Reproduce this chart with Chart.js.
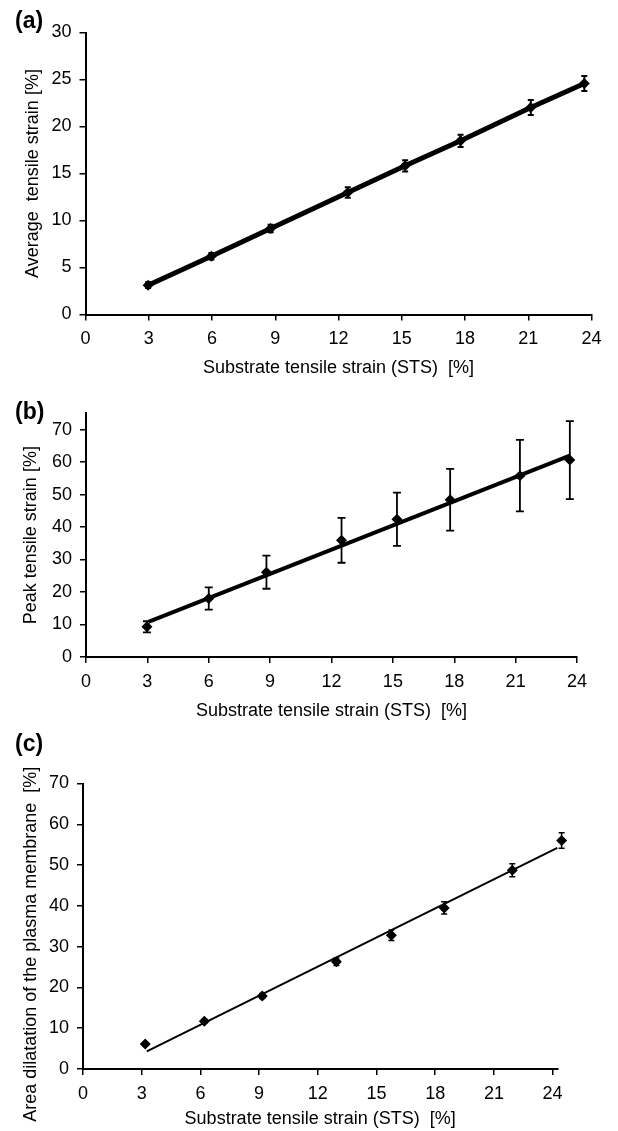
<!DOCTYPE html>
<html>
<head>
<meta charset="utf-8">
<script src="https://cdn.jsdelivr.net/npm/chart.js@4.4.1/dist/chart.umd.min.js"></script>
<style>
  html, body { margin: 0; padding: 0; background: #fff; }
  body { width: 618px; height: 1131px; position: relative; overflow: hidden; font-family: 'Liberation Sans', Arial, sans-serif; }
  canvas { position: absolute; left: 0; }
  .tag { position: absolute; left: 15px; font-weight: bold; font-size: 23px; line-height: 1; color: #000; }
</style>
</head>
<body>
<canvas id="chartA" width="618" height="385" style="top:0"></canvas>
<canvas id="chartB" width="618" height="345" style="top:385px"></canvas>
<canvas id="chartC" width="618" height="401" style="top:730px"></canvas>
<div class="tag" style="top:9px">(a)</div>
<div class="tag" style="top:400px">(b)</div>
<div class="tag" style="top:732px">(c)</div>
<script>
// (a) average tensile strain vs substrate tensile strain
const stsA = [2.97, 5.97, 8.78, 12.44, 15.16, 17.79, 21.12, 23.66];
const avgStrain = [3.12, 6.2, 9.15, 12.98, 15.82, 18.48, 22.02, 24.57];
const avgErr = [0.3, 0.35, 0.4, 0.55, 0.6, 0.65, 0.8, 0.8];

// (b) peak tensile strain
const stsB = [2.98, 6.0, 8.82, 12.49, 15.2, 17.8, 21.21, 23.65];
const peakStrain = [9.3, 18.0, 26.1, 35.9, 42.4, 48.4, 55.8, 60.6];
const peakErr = [1.7, 3.4, 5.1, 6.9, 8.2, 9.5, 11.0, 12.0];
const peakFitX = [3.05, 23.65];
const peakFitY = [10.8, 62.0];

// (c) area dilatation of the plasma membrane
const stsC = [3.18, 6.2, 9.16, 12.95, 15.76, 18.46, 21.94, 24.46];
const areaDil = [6.1, 11.7, 17.9, 26.3, 32.8, 39.5, 48.75, 56.0];
const areaErr = [0.4, 0.5, 0.6, 0.9, 1.3, 1.5, 1.6, 1.9];
const areaFitX = [3.26, 24.24];
const areaFitY = [4.3, 54.2];

const xTitle = "Substrate tensile strain (STS)  [%]";
const FONT = "'Liberation Sans', Arial, sans-serif";
const INK = "#000";

const toXY = (xs, ys) => xs.map((x, i) => ({ x, y: ys[i] }));

const errorBars = {
  id: "errorBars",
  afterDatasetsDraw(chart) {
    const { ctx } = chart;
    const y = chart.scales.y;
    chart.data.datasets.forEach((ds, i) => {
      if (!ds.errors) return;
      const meta = chart.getDatasetMeta(i);
      ctx.save();
      ctx.strokeStyle = INK;
      ctx.lineWidth = ds.errorWidth;
      meta.data.forEach((pt, j) => {
        const v = ds.data[j].y;
        const e = ds.errors[j];
        const top = y.getPixelForValue(v + e);
        const bot = y.getPixelForValue(v - e);
        const h = ds.capHalf;
        ctx.beginPath();
        ctx.moveTo(pt.x, top); ctx.lineTo(pt.x, bot);
        ctx.moveTo(pt.x - h, top); ctx.lineTo(pt.x + h, top);
        ctx.moveTo(pt.x - h, bot); ctx.lineTo(pt.x + h, bot);
        ctx.stroke();
      });
      ctx.restore();
    });
  },
};

// y title drawn by hand so it can sit off-centre (panel c)
const sideTitle = {
  id: "sideTitle",
  afterDraw(chart, args, opts) {
    if (!opts.text) return;
    const { ctx, chartArea } = chart;
    const cy = (chartArea.top + chartArea.bottom) / 2 + opts.shift;
    ctx.save();
    ctx.translate(opts.x, cy);
    ctx.rotate(-Math.PI / 2);
    ctx.fillStyle = INK;
    ctx.font = `18px ${FONT}`;
    ctx.textAlign = "center";
    ctx.textBaseline = "middle";
    ctx.fillText(opts.text, 0, 0);
    ctx.restore();
  },
};

function panel(id, p) {
  const axisCommon = {
    border: { display: true, color: INK, width: 2 },
    grid: { drawOnChartArea: false, drawTicks: true, tickLength: 6, color: INK, lineWidth: 1.5 },
  };
  return new Chart(document.getElementById(id), {
    type: "scatter",
    data: { datasets: p.datasets },
    options: {
      responsive: false,
      animation: false,
      layout: { padding: p.padding },
      plugins: {
        legend: { display: false },
        tooltip: { enabled: false },
        sideTitle: p.sideTitle || {},
      },
      scales: {
        x: {
          ...axisCommon,
          type: "linear",
          min: 0,
          max: p.xMax,
          afterFit: (s) => { s.height = p.xHeight; },
          ticks: { stepSize: 3, includeBounds: false, color: INK, padding: 8, font: { family: FONT, size: 18 } },
          title: { display: true, text: xTitle, color: INK, font: { family: FONT, size: 18 }, padding: { top: 0, bottom: p.xTitlePad } },
        },
        y: {
          ...axisCommon,
          type: "linear",
          min: 0,
          max: p.yMax,
          afterFit: (s) => { s.width = p.yWidth; },
          ticks: { stepSize: p.yStep, includeBounds: false, color: INK, padding: 8, font: { family: FONT, size: 18 } },
          title: { display: !!p.yTitle, text: p.yTitle || "", color: INK, font: { family: FONT, size: 18 }, padding: { top: p.yTitlePad, bottom: 0 } },
        },
      },
    },
    plugins: [errorBars, sideTitle],
  });
}

const pointStyle = { pointStyle: "rectRot", pointRadius: 5.5, pointBackgroundColor: INK, pointBorderWidth: 0, pointHoverRadius: 5.5 };

panel("chartA", {
  padding: { top: 32.5, left: 0, right: 26.5, bottom: 0 },
  xMax: 24, xHeight: 70.5, xTitlePad: 6,
  yMax: 30, yStep: 5, yWidth: 85.5, yTitlePad: 22,
  yTitle: "Average  tensile strain [%]",
  datasets: [{
    data: toXY(stsA, avgStrain),
    showLine: true, borderColor: INK, borderWidth: 5,
    errors: avgErr, errorWidth: 2, capHalf: 3,
    ...pointStyle,
  }],
});

panel("chartB", {
  padding: { top: 28.3, left: 0, right: 41, bottom: 0 },
  xMax: 24, xHeight: 73, xTitlePad: 8,
  yMax: 75, yStep: 10, yWidth: 86, yTitlePad: 20.5,
  yTitle: "Peak tensile strain [%]",
  datasets: [
    { data: toXY(peakFitX, peakFitY), showLine: true, borderColor: INK, borderWidth: 4, pointRadius: 0 },
    { data: toXY(stsB, peakStrain), errors: peakErr, errorWidth: 1.8, capHalf: 4, ...pointStyle },
  ],
});

panel("chartC", {
  padding: { top: 53.5, left: 0, right: 60.7, bottom: 0 },
  xMax: 24.24, xHeight: 62, xTitlePad: 1,
  yMax: 70, yStep: 10, yWidth: 83, yTitlePad: 20.5,
  sideTitle: { text: "Area dilatation of the plasma membrane  [%]", x: 31.5, shift: 18 },
  datasets: [
    { data: toXY(areaFitX, areaFitY), showLine: true, borderColor: INK, borderWidth: 2, pointRadius: 0, clip: false },
    { data: toXY(stsC, areaDil), errors: areaErr, errorWidth: 1.5, capHalf: 3, clip: false, ...pointStyle },
  ],
});
</script>
</body>
</html>
